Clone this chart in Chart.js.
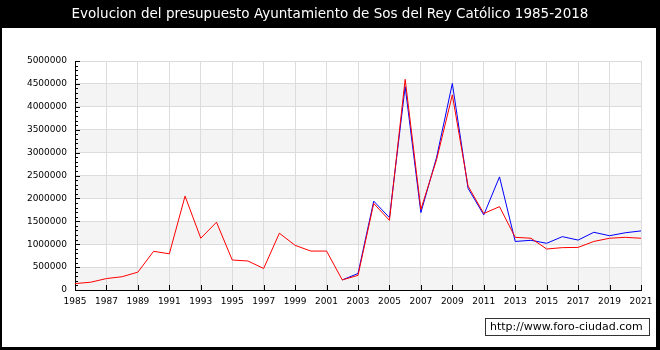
<!DOCTYPE html>
<html>
<head>
<meta charset="utf-8">
<script src="https://cdn.jsdelivr.net/npm/chart.js@4/dist/chart.umd.min.js"></script>
<style>
  body { margin: 0; background: #000; }
</style>
</head>
<body>
<canvas id="chart" width="660" height="350"></canvas>
<script>
var TITLE = 'Evolucion del presupuesto Ayuntamiento de Sos del Rey Católico 1985-2018';
var WATERMARK = 'http://www.foro-ciudad.com';

var years = [1985, 1986, 1987, 1988, 1989, 1990, 1991, 1992, 1993, 1994, 1995, 1996, 1997,
  1998, 1999, 2000, 2001, 2002, 2003, 2004, 2005, 2006, 2007, 2008, 2009, 2010, 2011,
  2012, 2013, 2014, 2015, 2016, 2017, 2018, 2019, 2020, 2021];

// linea roja
var serieRoja = [140000, 170000, 250000, 290000, 390000, 845000, 790000, 2050000, 1130000,
  1480000, 655000, 633000, 470000, 1240000, 975000, 850000, 850000, 220000, 320000,
  1890000, 1520000, 4600000, 1760000, 2850000, 4260000, 2270000, 1670000, 1820000,
  1150000, 1130000, 895000, 925000, 930000, 1060000, 1130000, 1150000, 1130000];

// linea azul (desde 2002)
var serieAzul = [null, null, null, null, null, null, null, null, null, null, null, null, null,
  null, null, null, null, 220000, 360000, 1940000, 1580000, 4440000, 1690000, 2900000,
  4510000, 2220000, 1640000, 2470000, 1060000, 1085000, 1020000, 1165000, 1090000,
  1260000, 1185000, 1250000, 1290000];

var FONT = 'DejaVu Sans';

function toPoints(values) {
  var pts = [];
  values.forEach(function(v, i) {
    if (v !== null) pts.push({ x: years[i], y: v });
  });
  return pts;
}

var marco = {
  id: 'marco',
  beforeDraw: function(chart) {
    var c = chart.ctx;
    var a = chart.chartArea;
    var y = chart.scales.y;
    c.save();
    c.fillStyle = '#000';
    c.fillRect(0, 0, 660, 350);
    c.fillStyle = '#fff';
    c.fillRect(2, 28, 654, 319);
    c.fillStyle = '#fff';
    c.font = '13.5px ' + FONT;
    c.textAlign = 'center';
    c.textBaseline = 'middle';
    c.fillText(TITLE, 330, 14);
    // bandas grises
    c.fillStyle = '#f4f4f4';
    for (var v = 0; v < 5000000; v += 1000000) {
      var top = y.getPixelForValue(v + 500000);
      var bot = y.getPixelForValue(v);
      c.fillRect(a.left, top, a.right - a.left, bot - top);
    }
    c.restore();
  },
  afterDraw: function(chart) {
    var c = chart.ctx;
    var a = chart.chartArea;
    var x = chart.scales.x;
    var y = chart.scales.y;
    c.save();
    c.strokeStyle = '#000';
    c.lineWidth = 1;
    c.beginPath();
    for (var v = 0; v <= 5000000; v += 100000) {
      var py = Math.round(y.getPixelForValue(v)) + 0.5;
      var len = (v % 500000 === 0) ? 5 : 3;
      c.moveTo(a.left, py);
      c.lineTo(a.left + len, py);
    }
    for (var yr = 1985; yr <= 2021; yr += 2) {
      var px = Math.round(x.getPixelForValue(yr)) + 0.5;
      c.moveTo(px, a.bottom);
      c.lineTo(px, a.bottom - 5);
    }
    c.stroke();
    // marca de agua
    c.fillStyle = '#fff';
    c.fillRect(485.5, 318.5, 164, 17);
    c.strokeStyle = '#333';
    c.strokeRect(485.5, 318.5, 164, 17);
    c.fillStyle = '#000';
    c.font = '11px ' + FONT;
    c.textAlign = 'left';
    c.textBaseline = 'middle';
    c.fillText(WATERMARK, 490, 327.5);
    c.restore();
  }
};

new Chart(document.getElementById('chart'), {
  type: 'line',
  data: {
    datasets: [{
      data: toPoints(serieRoja),
      borderColor: '#ff0000',
      borderWidth: 1,
      pointRadius: 0,
      tension: 0
    }, {
      data: toPoints(serieAzul),
      borderColor: '#0000ff',
      borderWidth: 1,
      pointRadius: 0,
      tension: 0
    }]
  },
  options: {
    responsive: false,
    animation: false,
    devicePixelRatio: 1,
    layout: { padding: { top: 61, left: 0, right: 19, bottom: 40 } },
    plugins: {
      legend: { display: false },
      tooltip: { enabled: false }
    },
    scales: {
      x: {
        type: 'linear',
        min: 1985,
        max: 2021,
        afterFit: function(s) { s.height = 20; },
        grid: { color: '#dcdcdc', drawTicks: false },
        border: { color: '#000' },
        ticks: {
          stepSize: 2,
          padding: 6,
          maxRotation: 0,
          autoSkip: false,
          color: '#000',
          font: { family: FONT, size: 9 },
          callback: function(v) { return String(v); }
        }
      },
      y: {
        min: 0,
        max: 5000000,
        afterFit: function(s) { s.width = 75; },
        grid: { color: '#dcdcdc', drawTicks: false },
        border: { color: '#000' },
        ticks: {
          stepSize: 500000,
          padding: 8,
          color: '#000',
          font: { family: FONT, size: 9 },
          callback: function(v) { return String(v); }
        }
      }
    }
  },
  plugins: [marco]
});
</script>
</body>
</html>
